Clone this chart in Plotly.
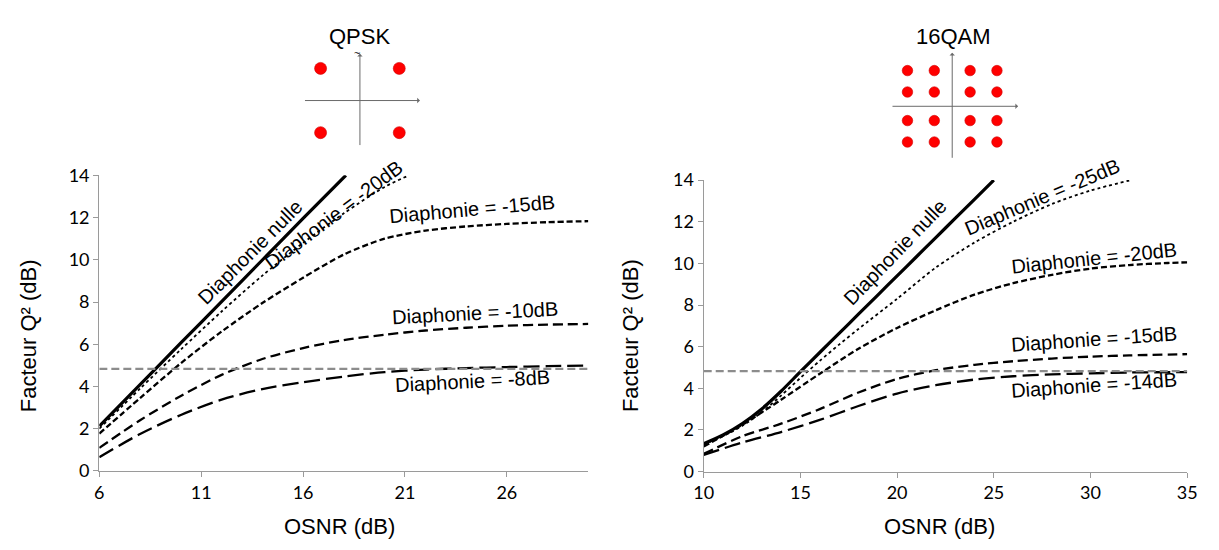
import plotly.graph_objects as go

# ---------------- data ----------------
# Left panel: QPSK
qpsk_nulle_x = [6, 8, 10, 12, 14, 16, 18.1]
qpsk_nulle_y = [2.12, 4.09, 6.06, 8.02, 9.99, 11.96, 14.0]
qpsk_m20_x = [6, 8, 10, 12, 14, 16, 18, 20, 21.2]
qpsk_m20_y = [2.0, 3.9, 5.75, 7.55, 9.25, 10.8, 12.2, 13.45, 14.0]
qpsk_m15_x = [6, 8, 10, 12, 14, 16, 18, 20, 22, 24, 26, 28, 30]
qpsk_m15_y = [1.77, 3.45, 5.1, 6.6, 7.95, 9.15, 10.25, 11.0, 11.38, 11.58, 11.7, 11.78, 11.83]
qpsk_m10_x = [6, 8, 10, 12, 14, 16, 18, 20, 22, 24, 26, 28, 30]
qpsk_m10_y = [1.09, 2.4, 3.55, 4.55, 5.3, 5.82, 6.2, 6.45, 6.65, 6.78, 6.88, 6.93, 6.96]
qpsk_m8_x = [6, 8, 10, 12, 14, 16, 18, 20, 22, 24, 26, 28, 30]
qpsk_m8_y = [0.65, 1.75, 2.65, 3.38, 3.88, 4.2, 4.47, 4.68, 4.8, 4.87, 4.92, 4.96, 4.99]

# Right panel: 16QAM
qam_nulle_x = [10, 11, 12, 13, 14, 15, 16, 17, 18, 19, 20, 21, 22, 23, 24, 25]
qam_nulle_y = [1.34, 1.76, 2.31, 3.01, 3.86, 4.8, 5.72, 6.64, 7.56, 8.48, 9.4, 10.32, 11.24, 12.16, 13.08, 14.0]
qam_m25_x = [10, 11, 12, 13, 14, 15, 16, 17, 18, 20, 22, 24, 26, 28, 30, 32]
qam_m25_y = [1.3, 1.7, 2.2, 2.85, 3.65, 4.5, 5.32, 6.1, 6.85, 8.3, 9.8, 11.0, 12.0, 12.85, 13.5, 13.98]
qam_m20_x = [10, 12, 14, 16, 18, 20, 22, 24, 26, 28, 30, 32, 34, 35]
qam_m20_y = [1.2, 2.25, 3.45, 4.7, 5.9, 6.9, 7.75, 8.5, 9.05, 9.45, 9.75, 9.92, 10.02, 10.05]
qam_m15_x = [10, 12, 14, 16, 18, 20, 22, 24, 26, 28, 30, 32, 35]
qam_m15_y = [0.85, 1.7, 2.3, 3.0, 3.8, 4.45, 4.87, 5.13, 5.3, 5.43, 5.52, 5.58, 5.64]
qam_m14_x = [10, 12, 14, 16, 18, 20, 22, 24, 26, 28, 30, 32, 35]
qam_m14_y = [0.8, 1.4, 1.9, 2.48, 3.15, 3.75, 4.15, 4.42, 4.58, 4.67, 4.72, 4.76, 4.78]

threshold_q = 4.83

# Constellations
qpsk_i = [-1, 1, -1, 1]
qpsk_q = [1, 1, -1, -1]
qam_levels = [-2.5, -1, 1, 2.5]
qam_i = [a for b in qam_levels for a in qam_levels]
qam_q = [b for b in qam_levels for a in qam_levels]

# tick labels
left_ticks = [6, 11, 16, 21, 26]
right_ticks = [10, 15, 20, 25, 30, 35]
y_ticks = [0, 2, 4, 6, 8, 10, 12, 14]

# page has an 8px body margin: figure is sized to fill the 1219x550 window exactly
OFF = 8
FW, FH = 1219 - 2 * OFF, 550 - 2 * OFF
def px(xp):
    return (xp - OFF) / FW
def py(yp):
    return 1 - (yp - OFF) / FH

TXT = "Liberation Sans, Arial, sans-serif"
NUM = "Lato, Calibri, sans-serif"

fig = go.Figure()

def line(x, y, xa, ya, width, dash):
    fig.add_trace(go.Scatter(x=x, y=y, xaxis=xa, yaxis=ya, mode="lines",
                             line=dict(color="black", width=width, dash=dash, shape="spline", smoothing=0.8),
                             showlegend=False, hoverinfo="skip"))

SHORT = "6px,3px"
MED = "10px,5px"
LONG = "16px,6px"
DOT = "dot"

# left
line(qpsk_nulle_x, qpsk_nulle_y, "x", "y", 3.2, "solid")
line(qpsk_m20_x, qpsk_m20_y, "x", "y", 1.8, DOT)
line(qpsk_m15_x, qpsk_m15_y, "x", "y", 2.3, SHORT)
line(qpsk_m10_x, qpsk_m10_y, "x", "y", 2.3, MED)
line(qpsk_m8_x, qpsk_m8_y, "x", "y", 2.3, LONG)
fig.add_trace(go.Scatter(x=[6, 30], y=[threshold_q, threshold_q], xaxis="x", yaxis="y", mode="lines",
                         line=dict(color="#8c8c8c", width=2.2, dash="8px,4px"), showlegend=False, hoverinfo="skip"))
# right
line(qam_nulle_x, qam_nulle_y, "x2", "y2", 3.2, "solid")
line(qam_m25_x, qam_m25_y, "x2", "y2", 1.8, DOT)
line(qam_m20_x, qam_m20_y, "x2", "y2", 2.3, SHORT)
line(qam_m15_x, qam_m15_y, "x2", "y2", 2.3, MED)
line(qam_m14_x, qam_m14_y, "x2", "y2", 2.3, LONG)
fig.add_trace(go.Scatter(x=[10, 35], y=[threshold_q, threshold_q], xaxis="x2", yaxis="y2", mode="lines",
                         line=dict(color="#8c8c8c", width=2.2, dash="8px,4px"), showlegend=False, hoverinfo="skip"))

# constellations
fig.add_trace(go.Scatter(x=qpsk_i, y=qpsk_q, xaxis="x3", yaxis="y3", mode="markers",
                         marker=dict(color="#ff0000", size=12, line=dict(color="#d00000", width=0.6)),
                         showlegend=False, hoverinfo="skip"))
fig.add_trace(go.Scatter(x=qam_i, y=qam_q, xaxis="x4", yaxis="y4", mode="markers",
                         marker=dict(color="#ff0000", size=10.5, line=dict(color="#d00000", width=0.6)),
                         showlegend=False, hoverinfo="skip"))

axcommon = dict(showline=True, linecolor="#9a9a9a", linewidth=1.3, ticks="outside", ticklen=5,
                tickcolor="#9a9a9a", tickwidth=1.3, showgrid=False, zeroline=False,
                tickfont=dict(family=NUM, size=18, color="black"))

fig.update_layout(
    width=FW, height=FH, autosize=False,
    margin=dict(l=0, r=0, t=0, b=0),
    paper_bgcolor="white", plot_bgcolor="white",
    xaxis=dict(domain=[px(90.7), px(588)], range=[6, 30], tickvals=left_ticks, anchor="y", **axcommon),
    yaxis=dict(domain=[py(478.3), py(170)], range=[0, 14], tickvals=y_ticks, anchor="x", **axcommon),
    xaxis2=dict(domain=[px(705.3), px(1197)], range=[10, 35], tickvals=right_ticks, anchor="y2", **axcommon),
    yaxis2=dict(domain=[py(479), py(175)], range=[0, 14], tickvals=y_ticks, anchor="x2", **axcommon),
    xaxis3=dict(domain=[px(355.7 - 64), px(355.7 + 64)], range=[-1.6, 1.6], visible=False, anchor="y3"),
    yaxis3=dict(domain=[py(92 + 53.6), py(92 - 53.6)], range=[-1.6, 1.6], visible=False, anchor="x3"),
    xaxis4=dict(domain=[px(958 - 72.8), px(958 + 72.8)], range=[-4, 4], visible=False, anchor="y4"),
    yaxis4=dict(domain=[py(98 + 59.6), py(98 - 59.6)], range=[-4, 4], visible=False, anchor="x4"),
)

ann = []
def label(text, x, y, xr, yr, angle, size=20):
    ann.append(dict(text=text, x=x, y=y, xref=xr, yref=yr, showarrow=False, textangle=angle,
                    font=dict(family=TXT, size=size, color="black"), xanchor="center", yanchor="middle"))

# curve labels, left
label("Diaphonie nulle", 13.4, 10.38, "x", "y", -45)
label("Diaphonie = -20dB", 17.5, 12.1, "x", "y", -37)
label("Diaphonie = -15dB", 24.3, 12.42, "x", "y", -5)
label("Diaphonie = -10dB", 24.45, 7.47, "x", "y", -3)
label("Diaphonie = -8dB", 24.3, 4.24, "x", "y", -3)
# curve labels, right
label("Diaphonie nulle", 19.9, 10.55, "x2", "y2", -46)
label("Diaphonie = -25dB", 27.5, 13.2, "x2", "y2", -23)
label("Diaphonie = -20dB", 30.2, 10.27, "x2", "y2", -6)
label("Diaphonie = -15dB", 30.2, 6.36, "x2", "y2", -4)
label("Diaphonie = -14dB", 30.2, 4.15, "x2", "y2", -4)

# axis titles
label("OSNR (dB)", px(335), py(536), "paper", "paper", 0, 22)
label("OSNR (dB)", px(945), py(536), "paper", "paper", 0, 22)
label("Facteur Q² (dB)", px(19), py(337), "paper", "paper", -90, 22)
label("Facteur Q² (dB)", px(631), py(337), "paper", "paper", -90, 22)

# constellation titles
label("QPSK", px(355.7), py(25), "paper", "paper", 0, 22)
label("~", px(353), py(42), "paper", "paper", 0, 11)
label("16QAM", px(959), py(25), "paper", "paper", 0, 22)

def arrow(x0, y0, x1, y1, xr, yr, head):
    ann.append(dict(x=x1, y=y1, ax=x0, ay=y0, xref=xr, yref=yr, axref=xr, ayref=yr, text="",
                    showarrow=True, arrowhead=head, arrowsize=0.9, arrowwidth=1, arrowcolor="#6a6a6a"))

# QPSK axes
arrow(-1.435, 0, 1.525, 0, "x3", "y3", 1)
arrow(0, -1.433, 0, 1.454, "x3", "y3", 1)
# 16QAM axes
arrow(-3.42, 0, 3.68, 0, "x4", "y4", 1)
arrow(0, -3.71, 0, 3.74, "x4", "y4", 1)

fig.update_layout(annotations=ann)

fig.write_html("out.html", config={"displayModeBar": False})
